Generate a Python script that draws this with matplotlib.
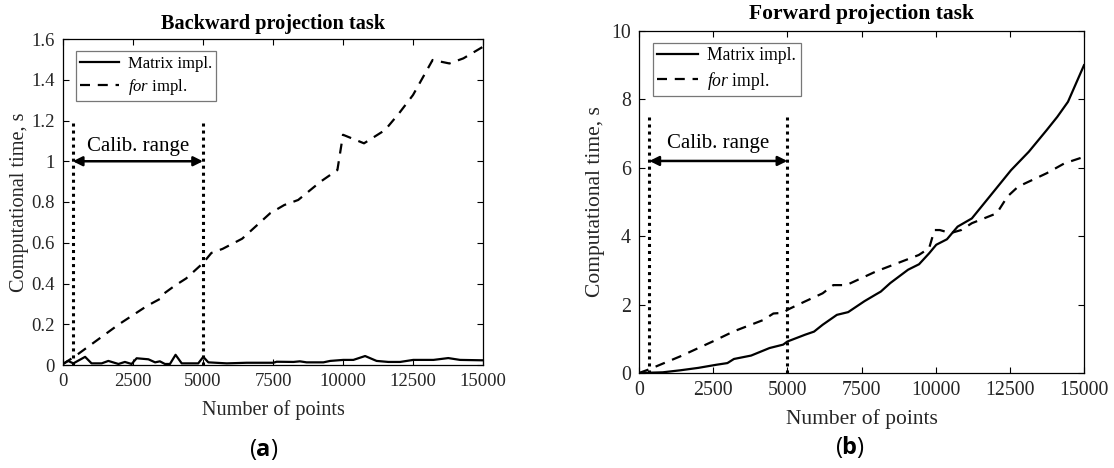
import matplotlib
matplotlib.use("Agg")
import matplotlib.pyplot as plt

plt.rcParams['font.family'] = ['Liberation Serif', 'DejaVu Serif']
plt.rcParams['mathtext.fontset'] = 'custom'
plt.rcParams['mathtext.rm'] = 'Liberation Serif'
plt.rcParams['mathtext.it'] = 'Liberation Serif:italic'
plt.rcParams['mathtext.bf'] = 'Open Sans:bold'

# ---------------- data ----------------
# (a) Backward projection task
back_matrix_x = [0, 180, 370, 790, 1020, 1380, 1620, 1980, 2210, 2450, 2630, 3050, 3290,
                 3460, 3640, 3820, 4020, 4240, 4830, 5010, 5190, 5850, 6560, 7510, 7630,
                 8230, 8460, 8700, 9300, 9540, 10010, 10370, 10790, 11200, 11620, 12040,
                 12510, 13230, 13760, 14180, 15000]
back_matrix_y = [0.005, 0.02, 0.008, 0.04, 0.008, 0.008, 0.02, 0.005, 0.015, 0.005, 0.033,
                 0.028, 0.013, 0.018, 0.005, 0.005, 0.05, 0.008, 0.008, 0.04, 0.013, 0.008,
                 0.011, 0.011, 0.016, 0.015, 0.018, 0.013, 0.013, 0.02, 0.025, 0.025, 0.044,
                 0.02, 0.015, 0.015, 0.025, 0.025, 0.034, 0.025, 0.023]
back_for_x = [0, 400, 1000, 2000, 2500, 3000, 3500, 3600, 4000, 4400, 5000, 5300, 5700,
              6400, 7400, 7900, 8400, 9200, 9800, 10000, 10750, 11500, 12000, 12500,
              13200, 13800, 14300, 15000]
back_for_y = [0.005, 0.04, 0.1, 0.2, 0.245, 0.29, 0.327, 0.35, 0.39, 0.425, 0.5, 0.55,
              0.57, 0.62, 0.745, 0.785, 0.81, 0.9, 0.957, 1.13, 1.088, 1.153, 1.235,
              1.325, 1.497, 1.48, 1.505, 1.562]

# (b) Forward projection task
fwd_matrix_x = [0, 800, 1400, 2000, 2600, 2980, 3200, 3780, 4400, 4860, 5000, 5600, 5900,
                6190, 6670, 7050, 7600, 7990, 8150, 8470, 9070, 9440, 9780, 10020, 10380,
                10740, 11220, 11820, 12540, 13140, 13740, 14100, 14460, 15000]
fwd_matrix_y = [0.0, 0.02, 0.08, 0.15, 0.24, 0.29, 0.41, 0.51, 0.73, 0.83, 0.92, 1.12,
                1.21, 1.41, 1.70, 1.78, 2.1, 2.3, 2.38, 2.63, 3.02, 3.18, 3.5, 3.75, 3.91,
                4.28, 4.52, 5.16, 5.93, 6.47, 7.1, 7.49, 7.93, 9.0]
fwd_for_x = [0, 320, 1400, 2480, 3200, 4190, 4530, 4860, 5030, 5590, 6190, 6550, 6990,
             7990, 8710, 9430, 9780, 9960, 10140, 10500, 10860, 11220, 12060, 12420,
             12780, 13740, 14340, 15000]
fwd_for_y = [0.0, 0.1, 0.49, 0.92, 1.22, 1.55, 1.74, 1.76, 1.86, 2.09, 2.33, 2.57, 2.57,
             2.97, 3.21, 3.45, 3.65, 4.18, 4.18, 4.09, 4.18, 4.38, 4.67, 5.16, 5.45,
             5.84, 6.13, 6.32]

calib_lo, calib_hi = 350, 5000
xticks = [0, 2500, 5000, 7500, 10000, 12500, 15000]
back_yticks = [0, 0.2, 0.4, 0.6, 0.8, 1, 1.2, 1.4, 1.6]
back_yticklabels = ['0', '0.2', '0.4', '0.6', '0.8', '1', '1.2', '1.4', '1.6']
fwd_yticks = [0, 2, 4, 6, 8, 10]

# ---------------- figure ----------------
fig = plt.figure(figsize=(11.14, 4.68), dpi=100)
axA = fig.add_axes([63/1114, 1-365/468, 420/1114, 326/468])
axB = fig.add_axes([639/1114, 1-373/468, 445/1114, 342/468])

dash = (0, (4.5, 3.5))
grey = '#262626'

panels = [
    dict(ax=axA, mx=back_matrix_x, my=back_matrix_y, fx=back_for_x, fy=back_for_y,
         ytop=1.2, yarrow=1.0, txt_off=0.028, title='Backward projection task',
         ylim=(0, 1.6), yt=back_yticks, ytl=back_yticklabels,
         s=1.0, title_y=1.031, ylab_x=-0.081, xlab_y=-0.107, leg_top=0.962,
         leg_fs=12),
    dict(ax=axB, mx=fwd_matrix_x, my=fwd_matrix_y, fx=fwd_for_x, fy=fwd_for_y,
         ytop=7.5, yarrow=6.2, txt_off=0.22, title='Forward projection task',
         ylim=(0, 10), yt=fwd_yticks, ytl=[str(v) for v in fwd_yticks],
         s=1.06, title_y=1.035, ylab_x=-0.076, xlab_y=-0.105, leg_top=0.965,
         leg_fs=12.7),
]

for p in panels:
    ax = p['ax']
    s = p['s']
    ax.plot(p['mx'], p['my'], color='black', lw=1.6, label='Matrix impl.')
    ax.plot(p['fx'], p['fy'], color='black', lw=1.6, linestyle=dash,
            label=r'$\mathit{for}$ impl.')
    ax.set_xlim(0, 15000)
    ax.set_ylim(*p['ylim'])
    ax.set_xticks(xticks)
    ax.set_yticks(p['yt'])
    ax.set_yticklabels(p['ytl'])
    ax.tick_params(direction='in', top=True, right=True, labelsize=13.5 * s,
                   length=4, width=0.8, color='black', labelcolor=grey, pad=6)
    for sp in ax.spines.values():
        sp.set_linewidth(0.9)
    ax.set_xlabel('Number of points', fontsize=14.6 * s, color=grey)
    ax.set_ylabel('Computational time, s', fontsize=14.6 * s, color=grey)
    ax.xaxis.set_label_coords(0.5, p['xlab_y'])
    ax.yaxis.set_label_coords(p['ylab_x'], 0.5)

    ax.vlines([calib_lo, calib_hi], 0, p['ytop'], colors='black',
              linestyles=(0, (1, 1.3)), lw=2.2)
    ax.annotate('', xy=(calib_hi, p['yarrow']), xytext=(calib_lo, p['yarrow']),
                arrowprops=dict(arrowstyle='<|-|>', color='black', lw=1.8,
                                shrinkA=0, shrinkB=0, mutation_scale=14))
    ax.text((calib_lo + calib_hi) / 2, p['yarrow'] + p['txt_off'], 'Calib. range',
            ha='center', va='bottom', fontsize=15)
    ax.text(0.5, p['title_y'], p['title'], transform=ax.transAxes, ha='center',
            va='baseline', fontsize=14.6 * s, fontweight='bold')
    leg = ax.legend(loc='upper left', bbox_to_anchor=(0.031, p['leg_top']),
                    borderaxespad=0, fontsize=p['leg_fs'], frameon=True,
                    fancybox=False, handlelength=2.3, handletextpad=0.55,
                    borderpad=0.25, labelspacing=0.3)
    leg.get_frame().set_edgecolor('#555555')
    leg.get_frame().set_linewidth(0.9)

fig.text(264/1114, 1-449/468, r'($\mathbf{a}$)', ha='center', va='center',
         fontsize=17, family='Open Sans')
fig.text(850/1114, 1-447/468, r'($\mathbf{b}$)', ha='center', va='center',
         fontsize=17, family='Open Sans')

fig.savefig('out.png', dpi=100)
